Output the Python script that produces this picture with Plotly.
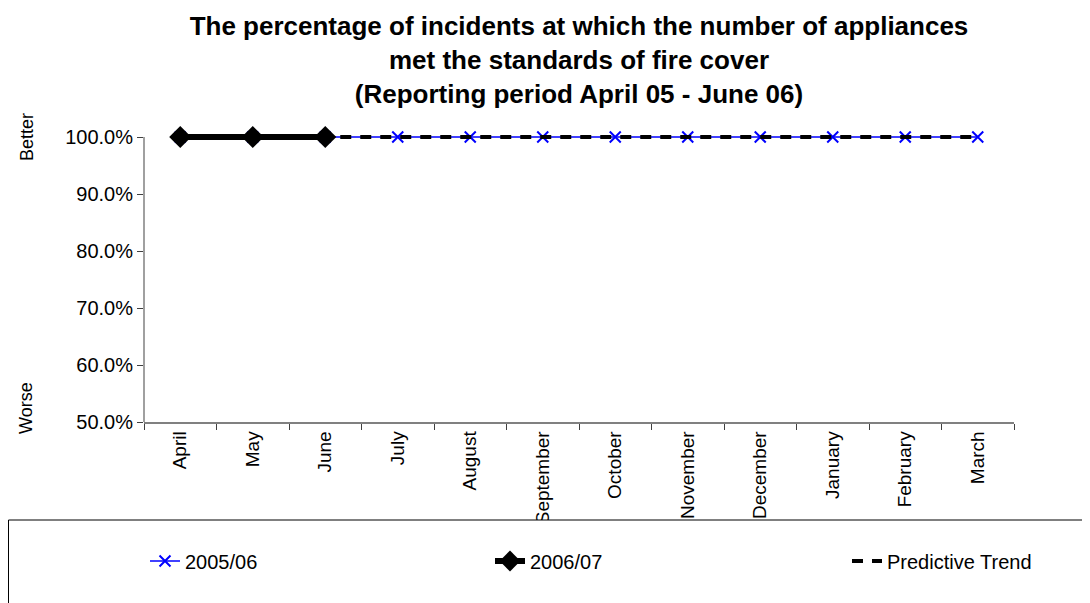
import plotly.graph_objects as go

months = ["April", "May", "June", "July", "August", "September", "October",
          "November", "December", "January", "February", "March"]
series_2005_06 = [1.0, 1.0, 1.0, 1.0, 1.0, 1.0, 1.0, 1.0, 1.0, 1.0, 1.0, 1.0]
series_2006_07 = [1.0, 1.0, 1.0]
predictive_trend = [1.0, 1.0, 1.0, 1.0, 1.0, 1.0, 1.0, 1.0, 1.0, 1.0, 1.0, 1.0]
y_ticks = [0.5, 0.6, 0.7, 0.8, 0.9, 1.0]

FONT = "Liberation Sans, Arial, sans-serif"

# The page body adds an 8px margin, so the figure is drawn 8px smaller and
# all target screen positions are shifted by OFF.
OFF = 8
FIG_W, FIG_H = 1090 - OFF, 603 - OFF

# target screen geometry (px): plot x from 144 to 1014, 50% at y=422, 100% at y=137
X_LEFT_S, X_RIGHT_S = 144, 1014
Y_BOTTOM_S, Y_TOP_TICK_S, Y_TOP_S = 422, 137, 130
PX_PER_UNIT = (Y_BOTTOM_S - Y_TOP_TICK_S) / 0.5

L = X_LEFT_S - OFF
R = 1090 - X_RIGHT_S
T = Y_TOP_S - OFF
B = 603 - Y_BOTTOM_S
W = FIG_W - L - R
H = FIG_H - T - B
Y_MAX = 0.5 + H / PX_PER_UNIT


def sx(p):
    """screen x (px) -> paper x"""
    return (p - OFF - L) / W


def sy(p):
    """screen y (px) -> paper y"""
    return (FIG_H - B - (p - OFF)) / H


fig = go.Figure()
fig.add_trace(go.Scatter(
    x=months, y=series_2005_06, name="2005/06", mode="lines+markers",
    line=dict(color="#0000FF", width=1.5),
    marker=dict(symbol="x-thin", size=11, color="#0000FF",
                line=dict(color="#0000FF", width=2)),
    legend="legend", cliponaxis=False))
fig.add_trace(go.Scatter(
    x=months, y=predictive_trend, name="Predictive Trend", mode="lines",
    line=dict(color="black", width=4, dash="11px,9px"),
    legend="legend3", cliponaxis=False))
fig.add_trace(go.Scatter(
    x=months[:len(series_2006_07)], y=series_2006_07, name="2006/07", mode="lines+markers",
    line=dict(color="black", width=6),
    marker=dict(symbol="diamond", size=17, color="black"),
    legend="legend2", cliponaxis=False))

# legend frame (covers the clipped month labels like in the original)
fig.add_shape(type="rect", xref="paper", yref="paper",
              x0=sx(8.5), x1=sx(1100), y0=sy(520), y1=sy(615),
              line=dict(color="black", width=1), fillcolor="white", layer="above")

# y axis line from 50% to 100%
fig.add_shape(type="line", xref="paper", yref="y", x0=0, x1=0, y0=0.5, y1=1.0,
              line=dict(color="#808080", width=1.5), layer="above")

fig.add_annotation(text="Better", xref="paper", yref="paper",
                   x=sx(27), y=sy(137), xanchor="center", yanchor="middle",
                   textangle=-90, showarrow=False,
                   font=dict(family=FONT, size=18, color="black"))
fig.add_annotation(text="Worse", xref="paper", yref="paper",
                   x=sx(26), y=sy(408), xanchor="center", yanchor="middle",
                   textangle=-90, showarrow=False,
                   font=dict(family=FONT, size=18, color="black"))

legend_common = dict(orientation="h", yanchor="middle", xanchor="left",
                     xref="paper", yref="paper", bgcolor="rgba(0,0,0,0)",
                     font=dict(family=FONT, size=20, color="black"))

fig.update_layout(
    width=FIG_W, height=FIG_H,
    margin=dict(l=L, r=R, t=T, b=B),
    paper_bgcolor="white", plot_bgcolor="white",
    font=dict(family=FONT, size=19, color="black"),
    title=dict(
        text="The percentage of incidents at which the number of appliances<br>"
             "met the standards of fire cover<br>"
             "(Reporting period April 05 - June 06)",
        x=0.5, xref="paper", xanchor="center",
        y=1 - (35 - OFF) / FIG_H, yref="container", yanchor="top",
        font=dict(family=FONT, size=26, color="black", weight="bold")),
    showlegend=True,
    legend=dict(x=sx(145), y=sy(561), **legend_common),
    legend2=dict(x=sx(490), y=sy(561), **legend_common),
    legend3=dict(x=sx(847), y=sy(561), **legend_common),
    xaxis=dict(type="category", categoryorder="array", categoryarray=months,
               range=[-0.5, 11.5], showgrid=False, zeroline=False, automargin=False,
               showline=True, linecolor="#808080", linewidth=1.5,
               ticks="outside", tickson="boundaries", ticklen=6, tickcolor="#404040",
               tickangle=-90, tickfont=dict(family=FONT, size=19, color="black")),
    yaxis=dict(range=[0.5, Y_MAX], tickvals=y_ticks, tickformat=".1%",
               showgrid=False, zeroline=False, automargin=False,
               showline=False,
               ticks="outside", ticklen=6, tickcolor="#404040",
               tickfont=dict(family=FONT, size=20, color="black")),
)

fig.write_html("out.html")
